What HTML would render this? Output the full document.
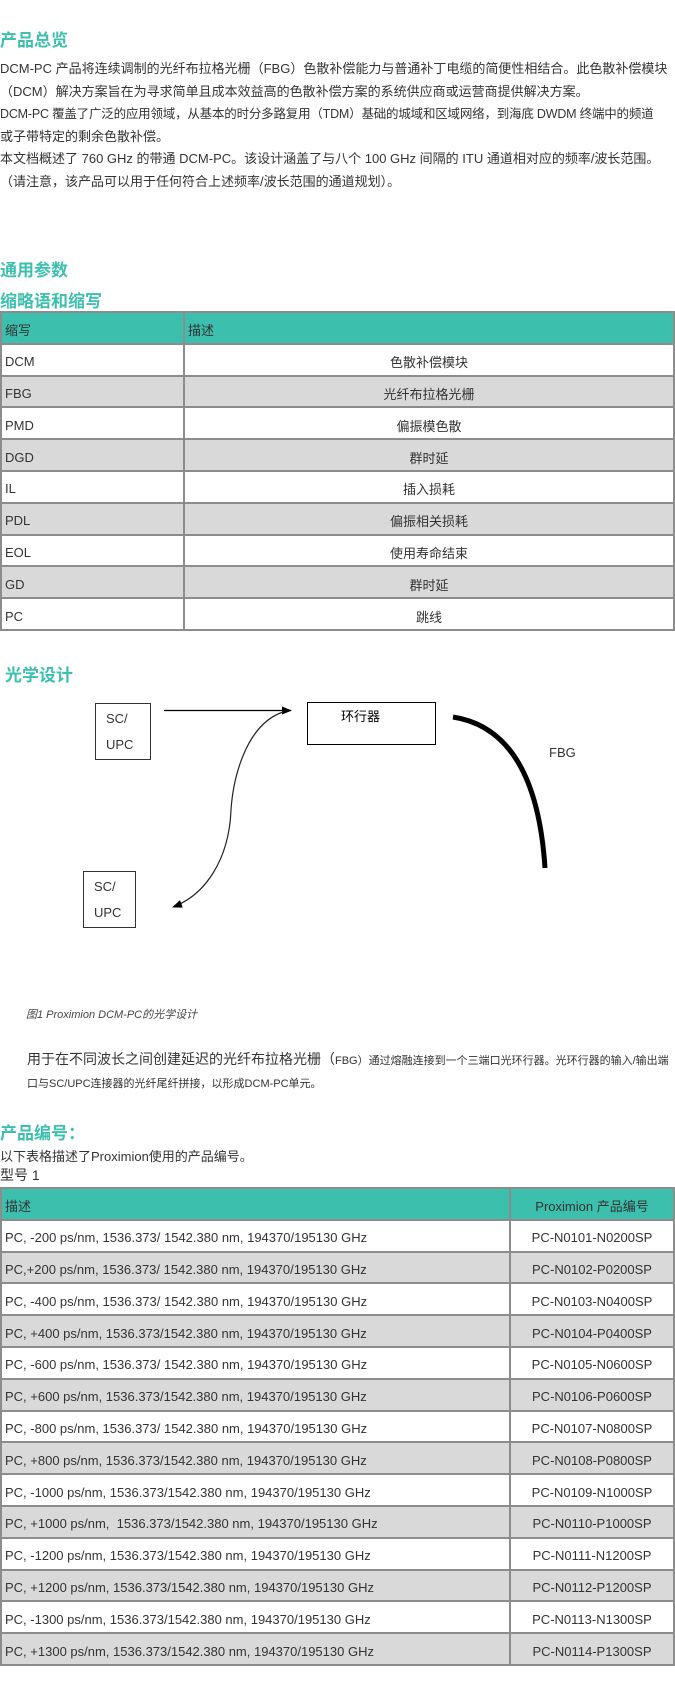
<!DOCTYPE html>
<html><head><meta charset="utf-8">
<style>
body{margin:0;width:675px;height:1684px;background:#fff;position:relative;font-family:"Liberation Sans","Noto Sans CJK SC",sans-serif;color:#333;overflow:hidden}
.a{position:absolute;white-space:nowrap}
.h{color:#3dbfae;font-weight:bold;font-size:17px}
.p{font-size:13px;left:0}
table{position:absolute;left:0;width:675px;border-collapse:collapse;font-size:13px;color:#333}
td{border:2px solid #8c8c8c;height:28px;padding:4px 3px 0 3px;box-sizing:border-box}
tr{height:31.8px}
.hd td{background:#3dbfae}
.g td{background:#d9d9d9}
.c{text-align:center}
</style></head><body>
<div class="a h" style="left:0;top:26px">产品总览</div>
<div class="a p" style="top:58px">DCM-PC 产品将连续调制的光纤布拉格光栅（FBG）色散补偿能力与普通补丁电缆的简便性相结合。此色散补偿模块</div>
<div class="a p" style="top:81px">（DCM）解决方案旨在为寻求简单且成本效益高的色散补偿方案的系统供应商或运营商提供解决方案。</div>
<div class="a p" style="top:103px;font-size:12.5px;letter-spacing:-0.2px">DCM-PC 覆盖了广泛的应用领域，从基本的时分多路复用（TDM）基础的城域和区域网络，到海底 DWDM 终端中的频道</div>
<div class="a p" style="top:126px">或子带特定的剩余色散补偿。</div>
<div class="a p" style="top:148px">本文档概述了 760 GHz 的带通 DCM-PC。该设计涵盖了与八个 100 GHz 间隔的 ITU 通道相对应的频率/波长范围。</div>
<div class="a p" style="top:171px">（请注意，该产品可以用于任何符合上述频率/波长范围的通道规划）。</div>

<div class="a h" style="left:0;top:256px">通用参数</div>
<div class="a h" style="left:0;top:287px">缩略语和缩写</div>
<table style="top:311px">
<col style="width:183px"><col>
<tr class="hd"><td>缩写</td><td>描述</td></tr>
<tr><td>DCM</td><td class="c">色散补偿模块</td></tr>
<tr class="g"><td>FBG</td><td class="c">光纤布拉格光栅</td></tr>
<tr><td>PMD</td><td class="c">偏振模色散</td></tr>
<tr class="g"><td>DGD</td><td class="c">群时延</td></tr>
<tr><td>IL</td><td class="c">插入损耗</td></tr>
<tr class="g"><td>PDL</td><td class="c">偏振相关损耗</td></tr>
<tr><td>EOL</td><td class="c">使用寿命结束</td></tr>
<tr class="g"><td>GD</td><td class="c">群时延</td></tr>
<tr><td>PC</td><td class="c">跳线</td></tr>
</table>

<div class="a h" style="left:5px;top:661px">光学设计</div>
<svg class="a" style="left:0;top:0" width="675" height="1000">
<defs><marker id="m" markerWidth="10" markerHeight="8" refX="9" refY="4" orient="auto" markerUnits="userSpaceOnUse"><path d="M0,0 L10,4 L0,8 z" fill="#000"/></marker></defs>
<rect x="95.5" y="703.5" width="55" height="56" fill="none" stroke="#333" stroke-width="1"/>
<rect x="307.5" y="702.5" width="128" height="42" fill="none" stroke="#000" stroke-width="1"/>
<rect x="83.5" y="871.5" width="52" height="56" fill="none" stroke="#333" stroke-width="1"/>
<line x1="164" y1="710.5" x2="291" y2="710.5" stroke="#000" stroke-width="1.3" marker-end="url(#m)"/>
<path d="M283,712 C245,725 233,780 231,810 C229,860 205,895 173,907" fill="none" stroke="#222" stroke-width="1.2" marker-end="url(#m)"/>
<path d="M453,717 Q536,730 545,868" fill="none" stroke="#000" stroke-width="5"/>
</svg>
<div class="a" style="left:106px;top:711px;font-size:13px">SC/</div>
<div class="a" style="left:106px;top:737px;font-size:13px">UPC</div>
<div class="a" style="left:94px;top:879px;font-size:13px">SC/</div>
<div class="a" style="left:94px;top:905px;font-size:13px">UPC</div>
<div class="a" style="left:341px;top:706px;font-size:13px;color:#000">环行器</div>
<div class="a" style="left:549px;top:745px;font-size:13px">FBG</div>

<div class="a" style="left:26px;top:1006px;font-size:11px;font-style:italic;color:#444">图1 Proximion DCM-PC的光学设计</div>
<div class="a" style="left:27px;top:1049px;color:#333"><span style="font-size:14px">用于在不同波长之间创建延迟的光纤布拉格光栅（</span><span style="font-size:11px">FBG）通过熔融连接到一个三端口光环行器。光环行器的输入/输出端</span></div>
<div class="a" style="left:27px;top:1075px;font-size:11px">口与SC/UPC连接器的光纤尾纤拼接，以形成DCM-PC单元。</div>

<div class="a h" style="left:0;top:1119px">产品编号：</div>
<div class="a" style="left:0;top:1146px;font-size:13px">以下表格描述了Proximion使用的产品编号。</div>
<div class="a" style="left:0;top:1165px;font-size:14px">型号 1</div>
<table style="top:1187px">
<col style="width:509px"><col>
<tr class="hd"><td>描述</td><td class="c">Proximion 产品编号</td></tr>
<tr><td>PC, -200 ps/nm, 1536.373/ 1542.380 nm, 194370/195130 GHz</td><td class="c">PC-N0101-N0200SP</td></tr>
<tr class="g"><td>PC,+200 ps/nm, 1536.373/ 1542.380 nm, 194370/195130 GHz</td><td class="c">PC-N0102-P0200SP</td></tr>
<tr><td>PC, -400 ps/nm, 1536.373/ 1542.380 nm, 194370/195130 GHz</td><td class="c">PC-N0103-N0400SP</td></tr>
<tr class="g"><td>PC, +400 ps/nm, 1536.373/1542.380 nm, 194370/195130 GHz</td><td class="c">PC-N0104-P0400SP</td></tr>
<tr><td>PC, -600 ps/nm, 1536.373/ 1542.380 nm, 194370/195130 GHz</td><td class="c">PC-N0105-N0600SP</td></tr>
<tr class="g"><td>PC, +600 ps/nm, 1536.373/1542.380 nm, 194370/195130 GHz</td><td class="c">PC-N0106-P0600SP</td></tr>
<tr><td>PC, -800 ps/nm, 1536.373/ 1542.380 nm, 194370/195130 GHz</td><td class="c">PC-N0107-N0800SP</td></tr>
<tr class="g"><td>PC, +800 ps/nm, 1536.373/1542.380 nm, 194370/195130 GHz</td><td class="c">PC-N0108-P0800SP</td></tr>
<tr><td>PC, -1000 ps/nm, 1536.373/1542.380 nm, 194370/195130 GHz</td><td class="c">PC-N0109-N1000SP</td></tr>
<tr class="g"><td>PC, +1000 ps/nm,&nbsp; 1536.373/1542.380 nm, 194370/195130 GHz</td><td class="c">PC-N0110-P1000SP</td></tr>
<tr><td>PC, -1200 ps/nm, 1536.373/1542.380 nm, 194370/195130 GHz</td><td class="c">PC-N0111-N1200SP</td></tr>
<tr class="g"><td>PC, +1200 ps/nm, 1536.373/1542.380 nm, 194370/195130 GHz</td><td class="c">PC-N0112-P1200SP</td></tr>
<tr><td>PC, -1300 ps/nm, 1536.373/1542.380 nm, 194370/195130 GHz</td><td class="c">PC-N0113-N1300SP</td></tr>
<tr class="g"><td>PC, +1300 ps/nm, 1536.373/1542.380 nm, 194370/195130 GHz</td><td class="c">PC-N0114-P1300SP</td></tr>
</table>
</body></html>
